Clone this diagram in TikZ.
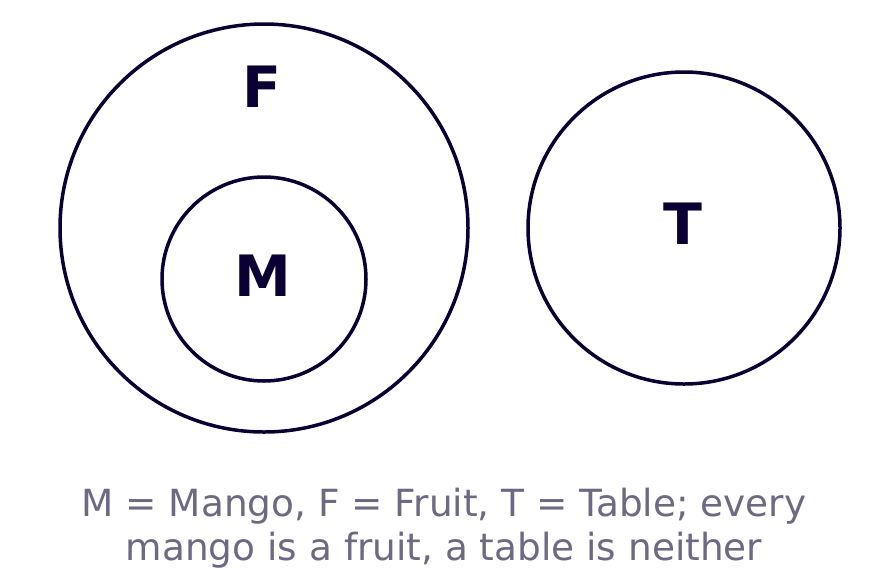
\documentclass[tikz,border=0pt]{standalone}
\usepackage{fontspec}
\setmainfont{DejaVu Sans}
\usepackage{tikz}
\definecolor{setline}{HTML}{0B0033}
\definecolor{captiongray}{HTML}{6C6982}

\begin{document}
\begin{tikzpicture}[x=1pt,y=-1pt]
        \tikzstyle{every node}+=[inner sep=0pt]
        \tikzstyle{setcirc}=[draw=setline, line width=3.5pt, circle]
        \tikzstyle{setlabel}=[text=setline, font=\fontsize{57}{60}\selectfont\bfseries]
        \useasboundingbox (0,0) rectangle (888,582);
        \node [setcirc, minimum size=408pt] (fruit) at (264,228) {};
        \node [setcirc, minimum size=204pt] (mango) at (264,279) {};
        \node [setcirc, minimum size=312pt] (table) at (684,228) {};
        \node [setlabel] (flabel) at (262,87) {F};
        \node [setlabel] (mlabel) at (263,276) {M};
        \node [setlabel] (tlabel) at (683,224) {T};
        \node [text=captiongray, align=center, font=\fontsize{37.4}{44}\selectfont] (caption) at (444,528) {M = Mango, F = Fruit, T = Table; every\\mango is a fruit, a table is neither};
\end{tikzpicture}
\end{document}
